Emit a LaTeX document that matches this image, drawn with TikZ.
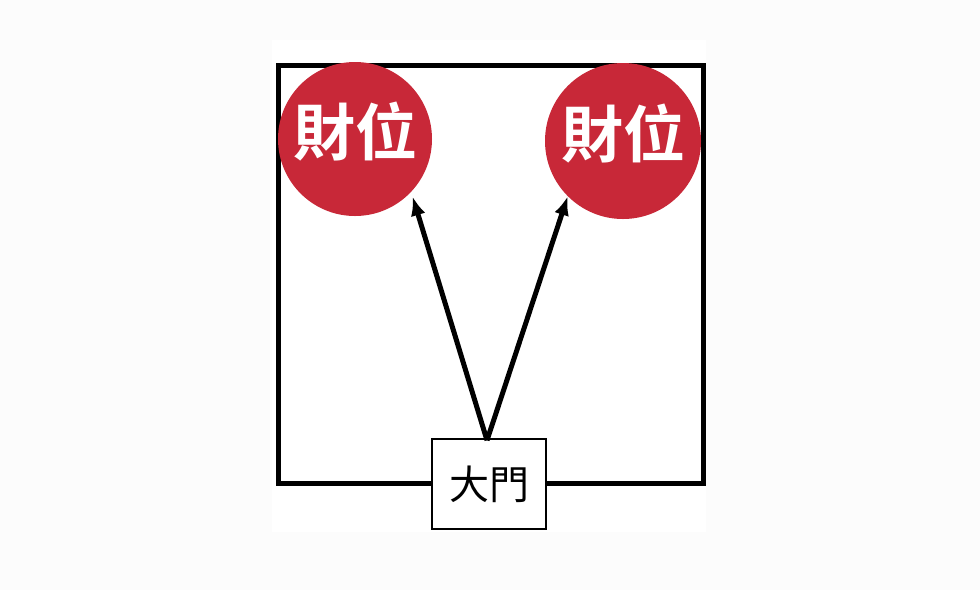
\documentclass[tikz,border=0pt]{standalone}
\usepackage{fontspec}
\newfontfamily\cjk{Noto Sans CJK TC}
\newfontfamily\cjkbold{Noto Sans CJK TC Bold}
\usetikzlibrary{arrows.meta,calc}
\definecolor{caired}{RGB}{200,40,56}
\definecolor{bggray}{RGB}{252,252,252}
\tikzset{
  wealth/.style={circle,fill=caired,minimum size=#1,inner sep=0pt},
  wealthtext/.style={text=white,inner sep=0pt,font=\cjkbold\fontsize{62}{62}\selectfont},
  doorbox/.style={draw=black,line width=1.3pt,fill=white,minimum width=114pt,minimum height=90pt,inner sep=0pt,font=\cjk\fontsize{40}{40}\selectfont},
  wall/.style={line width=5pt,line cap=rect},
  pointer/.style={line width=5pt,-{Latex[length=19pt,width=15pt]}}
}
\begin{document}
\begin{tikzpicture}[x=1pt,y=-1pt]
\useasboundingbox (0,0) rectangle (980,590);
\fill[bggray] (0,0) rectangle (980,590);
\fill[white] (272,40) rectangle (706,532);
\draw[wall] (278,65) rectangle (703,483);
\node[wealth=154pt] (L) at (355,139) {};
\node[wealth=156pt] (R) at (623,141) {};
\node[wealthtext] (Lt) at ($(L.center)+(0,-7)$) {財位};
\node[wealthtext] (Rt) at ($(R.center)+(0,-7)$) {財位};
\node[doorbox] (D) at (489,484) {大門};
\coordinate (S) at ($(D.north)+(-2,2)$);
\draw[pointer] (S) -- ($(L.-45)+(3,3)$);
\draw[pointer] (S) -- (R.-135);
\end{tikzpicture}
\end{document}
